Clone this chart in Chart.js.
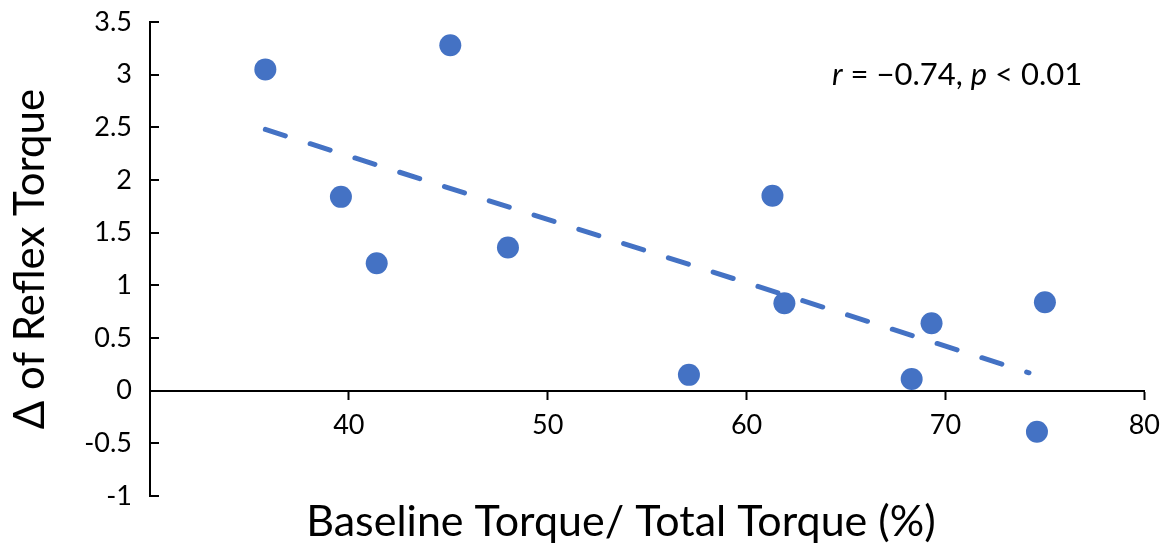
<!DOCTYPE html>
<html>
<head>
<meta charset="utf-8">
<script src="https://cdn.jsdelivr.net/npm/chart.js@4"></script>
<style>
  html, body { margin: 0; padding: 0; background: #fff; }
  #wrap { width: 1170px; height: 546px; }
</style>
</head>
<body>
<div id="wrap"><canvas id="myChart" width="1170" height="546"></canvas></div>
<script>
// baseline torque / total torque (%)
const xValues = [35.8, 45.1, 39.6, 41.4, 48.0, 61.3, 61.9, 57.1, 69.3, 68.3, 75.0, 74.6];
// delta of reflex torque
const yValues = [3.05, 3.28, 1.84, 1.21, 1.36, 1.85, 0.83, 0.15, 0.64, 0.11, 0.84, -0.39];
// linear trendline end points
const trendX = [35.8, 74.2];
const trendY = [2.48, 0.17];
const xTicks = [30, 40, 50, 60, 70, 80];
const yTicks = [-1, -0.5, 0, 0.5, 1, 1.5, 2, 2.5, 3, 3.5];

const FONT = 'Lato';
const blue = '#4472C4';

const points = xValues.map((x, i) => ({x: x, y: yValues[i]}));
const trend = trendX.map((x, i) => ({x: x, y: trendY[i]}));

// y ticks point inward like excel, x title, and the r/p note
const extras = {
  id: 'extras',
  afterDraw(chart) {
    const ctx = chart.ctx;
    const ys = chart.scales.y;
    ctx.save();
    ctx.strokeStyle = '#000';
    ctx.lineWidth = 2;
    ys.ticks.forEach(t => {
      const py = Math.round(ys.getPixelForValue(t.value));
      ctx.beginPath();
      ctx.moveTo(chart.chartArea.left, py);
      ctx.lineTo(chart.chartArea.left + 9, py);
      ctx.stroke();
    });
    ctx.fillStyle = '#000';
    ctx.textBaseline = 'middle';

    // x axis title
    ctx.textAlign = 'center';
    ctx.font = '43px ' + FONT;
    ctx.fillText('Baseline Torque/ Total Torque (%)', 621, 522);

    // note text
    const parts = [
      ['italic', 'r'], ['normal', ' = \u22120.74, '], ['italic', 'p'], ['normal', ' < 0.01']
    ];
    let x = 832;
    const y = 75;
    ctx.textAlign = 'left';
    parts.forEach(p => {
      ctx.font = p[0] + ' 31px ' + FONT;
      ctx.fillText(p[1], x, y);
      x += ctx.measureText(p[1]).width;
    });
    ctx.restore();
  }
};

new Chart(document.getElementById('myChart').getContext('2d'), {
  type: 'scatter',
  data: {
    datasets: [
      {
        data: points,
        backgroundColor: blue,
        borderWidth: 0,
        pointRadius: 11,
        pointHoverRadius: 11
      },
      {
        type: 'line',
        data: trend,
        borderColor: blue,
        borderWidth: 5,
        borderDash: [21, 26],
        borderCapStyle: 'round',
        pointRadius: 0,
        fill: false
      }
    ]
  },
  options: {
    responsive: false,
    animation: false,
    devicePixelRatio: 1,
    layout: { padding: { top: 22, right: 24, left: 0, bottom: 50 } },
    plugins: {
      legend: { display: false },
      tooltip: { enabled: false }
    },
    scales: {
      x: {
        type: 'linear',
        position: { y: 0 },
        min: 30,
        max: 80,
        afterBuildTicks: s => { s.ticks = xTicks.map(v => ({value: v})); },
        ticks: {
          color: '#000',
          font: { family: FONT, size: 27 },
          padding: 10,
          callback: v => (v === 30 ? '' : v)
        },
        grid: {
          drawOnChartArea: false,
          tickLength: 8,
          tickWidth: 2,
          color: c => (c.tick && c.tick.value === 30 ? 'rgba(0,0,0,0)' : '#000')
        },
        border: { display: true, color: '#000', width: 2 }
      },
      y: {
        min: -1,
        max: 3.5,
        afterBuildTicks: s => { s.ticks = yTicks.map(v => ({value: v})); },
        afterFit: s => { s.width = 150; s.paddingTop = 0; s.paddingBottom = 0; },
        ticks: {
          color: '#000',
          font: { family: FONT, size: 27 },
          padding: 10,
          callback: v => String(v)
        },
        grid: { display: false },
        border: { display: true, color: '#000', width: 2 },
        title: {
          display: true,
          text: '\u0394 of Reflex Torque',
          color: '#000',
          font: { family: FONT, size: 42 },
          padding: { top: 5, bottom: 0 }
        }
      }
    }
  },
  plugins: [extras]
});
</script>
</body>
</html>
